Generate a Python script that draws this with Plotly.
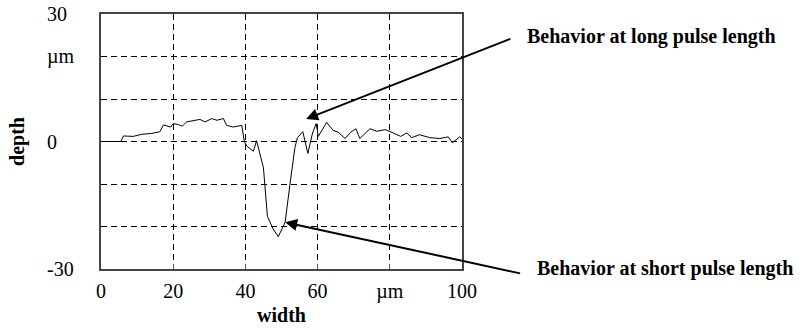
import plotly.graph_objects as go

# ---- data ----
width_um = [0, 5.5, 6.2, 8.9, 11.3, 14, 16.3, 17.3, 19.3, 20, 21.4, 22.5, 23.7, 27.4, 28.8,
            30.7, 32.1, 33.9, 34.8, 36.6, 39, 39.7, 40.4, 42.2, 43.1, 45, 46.1, 47.7, 49.1,
            51, 52.4, 53.7, 54.4, 55.9, 57.3, 58.6, 59.6, 60.2, 62.5, 64.3, 65.7, 67.6, 69.2,
            70.6, 71.7, 74.5, 76.4, 78.7, 81, 83, 84.7, 86.1, 88.2, 91.1, 93.9, 96.2, 97.3,
            99.4, 100]
depth_um = [0, 0, 1.3, 1.2, 1.7, 1.9, 2.3, 3.9, 3.4, 4.2, 4.0, 3.6, 4.6, 5.2, 4.6,
            5.4, 5.0, 5.4, 3.8, 3.4, 3.8, 0.0, -1.1, -2.3, 0.2, -6.2, -17.6, -20.6, -22.4,
            -19, -9.7, -1.5, 0.9, 2.3, -2.8, 2.0, 4.2, 1.2, 4.5, 2.6, 2.2, 0.7, 2.2,
            3.0, 0.7, 3.0, 2.4, 2.8, 2.0, 1.2, 2.0, 0.9, 1.6, 0.9, 0.7, 1.1, -0.3,
            1.1, 0.6]

x_tickvals = [0, 20, 40, 60, 80, 100]
x_ticktext = ["0", "20", "40", "60", "\u00b5m", "100"]
y_gridvals = [-30, -20, -10, 0, 10, 20, 30]
y_labelvals = [30, 20, 0, -30]
y_labeltext = ["30", "\u00b5m", "0", "-30"]

notes = ["Behavior at long pulse length", "Behavior at short pulse length"]
note_tips = [(56.8, 5.3), (51.0, -19.0)]
note_tails = [(113.8, 24.3), (116.5, -31.1)]

FONT = "Liberation Serif"

fig = go.Figure()
fig.add_trace(go.Scatter(x=width_um, y=depth_um, mode="lines",
                         line=dict(color="black", width=1), showlegend=False,
                         hoverinfo="skip"))

fig.update_layout(
    width=803, height=330,
    margin=dict(l=101, r=341, t=14, b=61, autoexpand=False),
    paper_bgcolor="white", plot_bgcolor="white",
    font=dict(family=FONT, size=20, color="black"),
    showlegend=False,
)

fig.update_xaxes(
    range=[0, 100], tickmode="array", tickvals=x_tickvals, ticktext=x_ticktext,
    ticks="inside", ticklen=5, tickcolor="#555", tickwidth=1,
    ticklabelstandoff=3, automargin=False,
    showline=True, linecolor="#444", linewidth=1.5, mirror=True,
    showgrid=True, gridcolor="black", gridwidth=1, griddash="6px,4px",
    zeroline=False,
    tickfont=dict(family=FONT, size=20, color="black"),
    title=dict(text="<b>width</b>", font=dict(family=FONT, size=20), standoff=6),
)
fig.update_yaxes(
    range=[-30, 30], tickmode="array", tickvals=y_gridvals, showticklabels=False,
    ticks="", automargin=False,
    showline=True, linecolor="#444", linewidth=1.5, mirror=True,
    showgrid=True, gridcolor="black", gridwidth=1, griddash="6px,4px",
    zeroline=False,
    title=dict(text="<b>depth</b>", font=dict(family=FONT, size=20), standoff=69),
)

# left-aligned y tick labels
for v, t in zip(y_labelvals, y_labeltext):
    fig.add_annotation(x=(45 - 101) / 361, xref="paper", xanchor="left",
                       y=v, yref="y", yanchor="middle", text=t, showarrow=False,
                       font=dict(family=FONT, size=20, color="black"))

# arrows and notes
for (tx, ty), (ax, ay) in zip(note_tips, note_tails):
    fig.add_annotation(x=tx, y=ty, xref="x", yref="y", ax=ax, ay=ay,
                       axref="x", ayref="y", text="", showarrow=True,
                       arrowhead=2, arrowsize=1.2, arrowwidth=2, arrowcolor="black",
                       standoff=0)

fig.add_annotation(x=(525 - 101) / 361, xref="paper", xanchor="left",
                   y=(330 - 14 - 61 - (36 - 14)) / 255, yref="paper", yanchor="middle",
                   text="<b>" + notes[0] + "</b>", showarrow=False,
                   font=dict(family=FONT, size=20, color="black"))
fig.add_annotation(x=(535 - 101) / 361, xref="paper", xanchor="left",
                   y=(255 - (268 - 14)) / 255, yref="paper", yanchor="middle",
                   text="<b>" + notes[1] + "</b>", showarrow=False,
                   font=dict(family=FONT, size=20, color="black"))

fig.write_html("out.html")
